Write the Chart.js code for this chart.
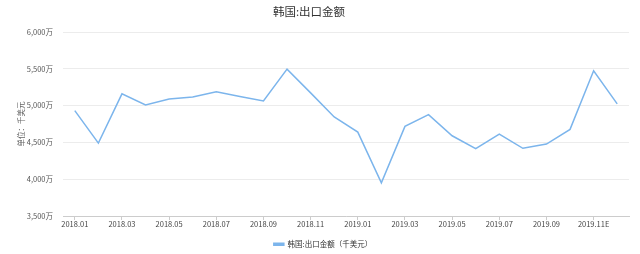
<!DOCTYPE html>
<html>
<head>
<meta charset="utf-8">
<script src="https://cdn.jsdelivr.net/npm/chart.js@4/dist/chart.umd.min.js"></script>
<style>
html,body{margin:0;padding:0;background:#fff;}
#c{display:block;}
</style>
</head>
<body>
<canvas id="c" width="640" height="254"></canvas>
<script>
const categories = ["2018.01","2018.02","2018.03","2018.04","2018.05","2018.06","2018.07","2018.08","2018.09","2018.10","2018.11","2018.12",
  "2019.01","2019.02","2019.03","2019.04","2019.05","2019.06","2019.07","2019.08","2019.09","2019.10","2019.11E","2019.12E"];
const exportValues = [4932,4490,5160,5010,5090,5118,5187,5125,5064,5495,5173,4846,
  4640,3950,4718,4877,4590,4414,4614,4420,4478,4677,5473,5023];
const yTicks = [3500,4000,4500,5000,5500,6000];
const chartTitle = "韩国:出口金额";
const seriesLabel = "韩国:出口金额（千美元）";
const yAxisTitle = "单位：千美元";

const FONT = '"Noto Sans CJK SC", "Noto Sans", sans-serif';

const titlePlugin = {
  id: 'customTitle',
  afterDraw(chart) {
    const ctx = chart.ctx;
    ctx.save();
    ctx.font = '11.5px ' + FONT;
    ctx.fillStyle = '#333';
    ctx.textAlign = 'center';
    ctx.textBaseline = 'middle';
    ctx.fillText(chartTitle, 309, 12);
    ctx.restore();
  }
};

new Chart(document.getElementById('c'), {
  type: 'line',
  data: {
    labels: categories,
    datasets: [{
      label: seriesLabel,
      data: exportValues,
      borderColor: '#7cb5ec',
      backgroundColor: '#7cb5ec',
      borderWidth: 1.5,
      pointRadius: 0,
      pointHoverRadius: 0,
      tension: 0,
      fill: false
    }]
  },
  plugins: [titlePlugin],
  options: {
    responsive: false,
    animation: false,
    devicePixelRatio: 1,
    layout: { padding: { top: 32, left: 17, right: 11, bottom: -4 } },
    plugins: {
      title: { display: false },
      tooltip: { enabled: false },
      legend: {
        position: 'bottom',
        labels: {
          boxWidth: 10,
          boxHeight: 2,
          padding: 2,
          color: '#333',
          font: { size: 7.5, family: FONT }
        }
      }
    },
    scales: {
      x: {
        offset: true,
        afterBuildTicks: s => { s.ticks = s.ticks.filter(t => t.value % 2 === 0); },
        afterFit: s => { s.height = 22.5; },
        grid: { display: true, drawOnChartArea: false, offset: false, tickLength: 4, color: '#ccc' },
        border: { display: true, color: '#ccc' },
        ticks: { autoSkip: false, maxRotation: 0, padding: 0, color: '#444', font: { size: 7.5, family: FONT } }
      },
      y: {
        min: 3500,
        max: 6000,
        afterBuildTicks: s => { s.ticks = yTicks.map(v => ({ value: v })); },
        afterFit: s => { s.width = 46; },
        grid: { color: '#ececec', drawTicks: false },
        border: { display: false },
        ticks: {
          padding: 10,
          color: '#555',
          font: { size: 7.5, family: FONT },
          callback: v => v.toLocaleString('en-US') + '万'
        },
        title: { display: true, text: yAxisTitle, color: '#666', font: { size: 7.5, family: FONT }, padding: 0 }
      }
    }
  }
});
</script>
</body>
</html>
